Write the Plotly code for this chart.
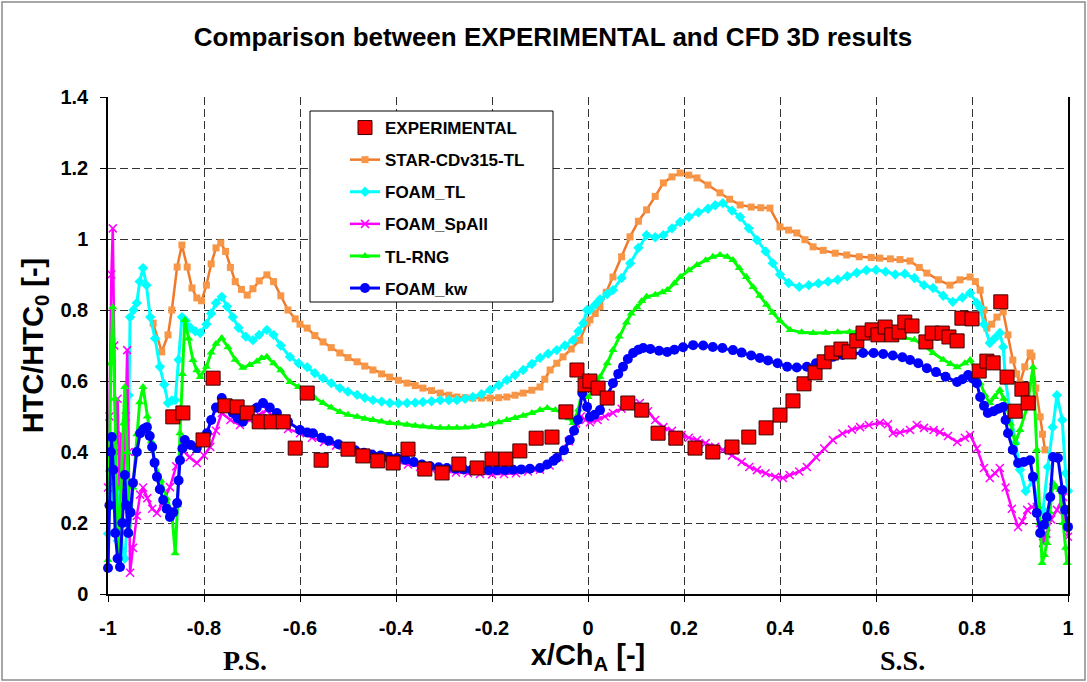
import plotly.graph_objects as go

# ---------------- data ----------------
x_ticks = [-1, -0.8, -0.6, -0.4, -0.2, 0, 0.2, 0.4, 0.6, 0.8, 1]
x_ticktext = ["-1", "-0.8", "-0.6", "-0.4", "-0.2", "0", "0.2", "0.4", "0.6", "0.8", "1"]
y_ticks = [0, 0.2, 0.4, 0.6, 0.8, 1.0, 1.2, 1.4]
y_ticktext = ["0", "0.2", "0.4", "0.6", "0.8", "1", "1.2", "1.4"]

exp_x = [-0.865, -0.844, -0.802, -0.781, -0.756, -0.731, -0.710, -0.685, -0.660, -0.635, -0.610,
         -0.585, -0.556, -0.500, -0.469, -0.438, -0.406, -0.375, -0.340, -0.304, -0.269, -0.231,
         -0.200, -0.171, -0.142, -0.108, -0.075, -0.046, -0.023, -0.006, 0.004, 0.021, 0.040,
         0.083, 0.112, 0.146, 0.183, 0.223, 0.260, 0.300, 0.335, 0.371, 0.400, 0.427, 0.450,
         0.473, 0.492, 0.508, 0.527, 0.544, 0.560, 0.573, 0.592, 0.604, 0.619, 0.633, 0.648,
         0.660, 0.675, 0.704, 0.717, 0.738, 0.752, 0.769, 0.779, 0.800, 0.815, 0.831, 0.844,
         0.860, 0.873, 0.890, 0.904, 0.917]
exp_y = [0.499, 0.510, 0.434, 0.608, 0.530, 0.527, 0.510, 0.485, 0.485, 0.485, 0.411,
         0.566, 0.377, 0.408, 0.389, 0.375, 0.369, 0.408, 0.352, 0.341, 0.366, 0.355,
         0.380, 0.380, 0.403, 0.439, 0.442, 0.513, 0.631, 0.589, 0.600, 0.580, 0.552,
         0.538, 0.518, 0.453, 0.439, 0.411, 0.400, 0.414, 0.442, 0.468, 0.504, 0.544, 0.592,
         0.623, 0.654, 0.679, 0.690, 0.682, 0.713, 0.735, 0.744, 0.730, 0.752, 0.730, 0.738,
         0.766, 0.755, 0.710, 0.735, 0.735, 0.724, 0.713, 0.777, 0.775, 0.628, 0.656, 0.651,
         0.823, 0.611, 0.515, 0.577, 0.538]

star_x = [-0.906, -0.888, -0.875, -0.867, -0.856, -0.846, -0.835, -0.825, -0.815, -0.805, -0.795,
          -0.785, -0.775, -0.765, -0.755, -0.745, -0.735, -0.722, -0.710, -0.698, -0.685, -0.669,
          -0.655, -0.640, -0.625, -0.610, -0.600, -0.585, -0.569, -0.552, -0.535, -0.517, -0.500,
          -0.481, -0.465, -0.448, -0.430, -0.413, -0.395, -0.377, -0.360, -0.344, -0.326, -0.308,
          -0.290, -0.273, -0.256, -0.240, -0.222, -0.204, -0.186, -0.169, -0.152, -0.135, -0.117,
          -0.100, -0.090, -0.079, -0.065, -0.052, -0.035, -0.017, -0.002, 0.004, 0.015, 0.025,
          0.038, 0.052, 0.070, 0.0875, 0.105, 0.122, 0.140, 0.157, 0.175, 0.192, 0.210, 0.227,
          0.250, 0.275, 0.295, 0.317, 0.340, 0.360, 0.379, 0.400, 0.418, 0.435, 0.452, 0.469,
          0.490, 0.515, 0.539, 0.565, 0.590, 0.608, 0.630, 0.650, 0.671, 0.690, 0.706, 0.730,
          0.754, 0.775, 0.796, 0.807, 0.817, 0.825, 0.831, 0.841, 0.852, 0.865, 0.875, 0.885,
          0.893, 0.900, 0.910, 0.921, 0.925, 0.933, 0.942, 0.947, 0.952]
star_y = [0.763, 0.682, 0.730, 0.800, 0.921, 0.983, 0.921, 0.862, 0.834, 0.826, 0.870,
          0.930, 0.975, 0.989, 0.965, 0.920, 0.880, 0.858, 0.842, 0.860, 0.882, 0.899,
          0.880, 0.840, 0.800, 0.775, 0.760, 0.749, 0.728, 0.710, 0.694, 0.679, 0.666,
          0.654, 0.642, 0.631, 0.620, 0.611, 0.602, 0.594, 0.587, 0.580, 0.573, 0.566,
          0.560, 0.555, 0.553, 0.552, 0.552, 0.552, 0.553, 0.555, 0.560, 0.566, 0.574,
          0.583, 0.605, 0.631, 0.650, 0.668, 0.690, 0.715, 0.763, 0.772, 0.790, 0.809,
          0.850, 0.893, 0.950, 1.006, 1.050, 1.082, 1.120, 1.158, 1.175, 1.186, 1.180, 1.172,
          1.152, 1.130, 1.112, 1.096, 1.090, 1.088, 1.087, 1.034, 1.025, 1.017, 0.998, 0.978,
          0.968, 0.960, 0.955, 0.950, 0.948, 0.946, 0.944, 0.942, 0.938, 0.920, 0.904, 0.885,
          0.870, 0.885, 0.893, 0.880, 0.856, 0.800, 0.749, 0.760, 0.780, 0.795, 0.730, 0.659,
          0.620, 0.594, 0.640, 0.679, 0.670, 0.580, 0.499, 0.450, 0.406]

ftl_x = [-1.000, -0.995, -0.990, -0.985, -0.980, -0.975, -0.970, -0.965, -0.960, -0.957, -0.954,
         -0.947, -0.940, -0.934, -0.927, -0.920, -0.912, -0.902, -0.892, -0.883, -0.875, -0.867,
         -0.860, -0.853, -0.846, -0.838, -0.828, -0.818, -0.808, -0.795, -0.785, -0.775, -0.763,
         -0.752, -0.740, -0.728, -0.713, -0.698, -0.685, -0.669, -0.655, -0.640, -0.621, -0.603,
         -0.585, -0.569, -0.552, -0.535, -0.517, -0.500, -0.481, -0.465, -0.448, -0.430, -0.413,
         -0.395, -0.377, -0.360, -0.344, -0.326, -0.308, -0.290, -0.273, -0.256, -0.240, -0.222,
         -0.204, -0.186, -0.169, -0.152, -0.135, -0.117, -0.100, -0.083, -0.065, -0.048, -0.031,
         -0.020, -0.010, -0.002, 0.004, 0.015, 0.025, 0.040, 0.052, 0.070, 0.088, 0.105, 0.122,
         0.140, 0.157, 0.175, 0.192, 0.210, 0.230, 0.250, 0.265, 0.281, 0.300, 0.317, 0.335,
         0.352, 0.370, 0.385, 0.400, 0.418, 0.440, 0.460, 0.480, 0.500, 0.520, 0.540, 0.560,
         0.580, 0.600, 0.620, 0.640, 0.660, 0.680, 0.700, 0.719, 0.740, 0.760, 0.780, 0.796,
         0.810, 0.817, 0.825, 0.837, 0.847, 0.858, 0.865, 0.870, 0.879, 0.890, 0.900, 0.912,
         0.927, 0.940, 0.948, 0.958, 0.968, 0.977, 0.988, 0.995, 1.000]
ftl_y = [0.170, 0.350, 0.250, 0.400, 0.150, 0.300, 0.120, 0.100, 0.200, 0.560, 0.780,
         0.800, 0.820, 0.880, 0.918, 0.870, 0.780, 0.720, 0.640, 0.590, 0.538, 0.545,
         0.546, 0.660, 0.780, 0.770, 0.750, 0.740, 0.735, 0.760, 0.790, 0.820, 0.837,
         0.810, 0.780, 0.750, 0.725, 0.715, 0.730, 0.744, 0.730, 0.700, 0.668, 0.650,
         0.639, 0.622, 0.608, 0.594, 0.580, 0.570, 0.561, 0.553, 0.546, 0.542, 0.538,
         0.537, 0.538, 0.539, 0.541, 0.543, 0.546, 0.546, 0.546, 0.550, 0.555, 0.563,
         0.575, 0.588, 0.603, 0.617, 0.631, 0.648, 0.665, 0.677, 0.687, 0.700, 0.715,
         0.740, 0.763, 0.800, 0.800, 0.815, 0.830, 0.845, 0.856, 0.890, 0.932, 0.975, 1.011,
         1.005, 1.011, 1.030, 1.048, 1.062, 1.075, 1.085, 1.095, 1.101, 1.080, 1.062, 1.030,
         0.997, 0.965, 0.932, 0.900, 0.876, 0.865, 0.870, 0.875, 0.880, 0.885, 0.895, 0.905,
         0.912, 0.913, 0.908, 0.900, 0.902, 0.890, 0.870, 0.862, 0.840, 0.823, 0.835, 0.848,
         0.820, 0.806, 0.760, 0.707, 0.720, 0.735, 0.696, 0.600, 0.518, 0.425, 0.350, 0.290,
         0.320, 0.237, 0.237, 0.358, 0.470, 0.560, 0.490, 0.340, 0.290]

spall_x = [-1.000, -0.997, -0.993, -0.990, -0.987, -0.984, -0.980, -0.976, -0.972, -0.968, -0.963,
           -0.960, -0.957, -0.954, -0.948, -0.940, -0.933, -0.927, -0.918, -0.908, -0.898, -0.885,
           -0.871, -0.858, -0.844, -0.830, -0.815, -0.800, -0.787, -0.775, -0.763, -0.745, -0.725,
           -0.705, -0.685, -0.669, -0.650, -0.625, -0.600, -0.575, -0.550, -0.525, -0.500, -0.475,
           -0.450, -0.425, -0.400, -0.375, -0.350, -0.325, -0.300, -0.275, -0.250, -0.225, -0.200,
           -0.175, -0.150, -0.125, -0.100, -0.080, -0.060, -0.040, -0.025, -0.015, -0.005, 0.004,
           0.020, 0.035, 0.052, 0.070, 0.090, 0.108, 0.125, 0.140, 0.157, 0.175, 0.195, 0.210,
           0.227, 0.245, 0.265, 0.281, 0.300, 0.320, 0.336, 0.352, 0.370, 0.390, 0.406, 0.420,
           0.440, 0.456, 0.475, 0.492, 0.510, 0.530, 0.550, 0.567, 0.585, 0.608, 0.625, 0.635,
           0.650, 0.671, 0.685, 0.700, 0.720, 0.733, 0.750, 0.769, 0.785, 0.796, 0.810, 0.825,
           0.837, 0.848, 0.858, 0.870, 0.883, 0.896, 0.905, 0.915, 0.925, 0.935, 0.942, 0.948,
           0.955, 0.965, 0.977, 0.990, 0.995, 1.000]
spall_y = [0.300, 0.500, 0.900, 1.030, 0.700, 0.400, 0.550, 0.300, 0.450, 0.250, 0.500,
           0.687, 0.400, 0.060, 0.130, 0.220, 0.280, 0.300, 0.270, 0.240, 0.228, 0.260,
           0.301, 0.360, 0.405, 0.385, 0.369, 0.390, 0.414, 0.460, 0.510, 0.490, 0.476,
           0.490, 0.505, 0.518, 0.490, 0.465, 0.453, 0.440, 0.428, 0.418, 0.408, 0.398,
           0.388, 0.378, 0.372, 0.365, 0.358, 0.350, 0.345, 0.342, 0.340, 0.338, 0.337,
           0.338, 0.340, 0.345, 0.350, 0.362, 0.385, 0.430, 0.480, 0.500, 0.490, 0.484,
           0.490, 0.500, 0.510, 0.522, 0.535, 0.538, 0.515, 0.490, 0.470, 0.460, 0.448, 0.440,
           0.434, 0.425, 0.415, 0.406, 0.390, 0.372, 0.358, 0.349, 0.340, 0.330, 0.327, 0.335,
           0.345, 0.358, 0.385, 0.410, 0.434, 0.452, 0.463, 0.470, 0.476, 0.482, 0.478, 0.453,
           0.455, 0.462, 0.476, 0.468, 0.462, 0.456, 0.445, 0.428, 0.440, 0.448, 0.410, 0.355,
           0.327, 0.340, 0.355, 0.300, 0.240, 0.189, 0.205, 0.237, 0.245, 0.245, 0.200, 0.144,
           0.170, 0.210, 0.237, 0.273, 0.210, 0.161]

rng_x = [-1.000, -0.997, -0.994, -0.990, -0.986, -0.982, -0.979, -0.973, -0.968, -0.965, -0.960,
         -0.955, -0.948, -0.940, -0.934, -0.927, -0.918, -0.910, -0.902, -0.890, -0.878, -0.867,
         -0.860, -0.855, -0.850, -0.845, -0.840, -0.832, -0.823, -0.815, -0.808, -0.795, -0.785,
         -0.775, -0.763, -0.750, -0.735, -0.719, -0.705, -0.690, -0.680, -0.669, -0.655, -0.640,
         -0.621, -0.603, -0.585, -0.569, -0.552, -0.535, -0.517, -0.500, -0.481, -0.465, -0.448,
         -0.430, -0.413, -0.395, -0.377, -0.360, -0.344, -0.326, -0.308, -0.290, -0.273, -0.256,
         -0.240, -0.222, -0.204, -0.186, -0.169, -0.152, -0.135, -0.117, -0.100, -0.085, -0.068,
         -0.052, -0.040, -0.031, -0.020, -0.012, 0.000, 0.012, 0.025, 0.040, 0.052, 0.065, 0.080,
         0.090, 0.102, 0.112, 0.122, 0.140, 0.155, 0.165, 0.180, 0.192, 0.210, 0.227, 0.245,
         0.260, 0.275, 0.290, 0.302, 0.315, 0.330, 0.344, 0.358, 0.372, 0.385, 0.400, 0.421,
         0.445, 0.469, 0.495, 0.520, 0.545, 0.560, 0.580, 0.600, 0.620, 0.640, 0.660, 0.680,
         0.700, 0.719, 0.740, 0.755, 0.769, 0.785, 0.796, 0.808, 0.817, 0.827, 0.837, 0.847,
         0.858, 0.866, 0.873, 0.880, 0.890, 0.900, 0.915, 0.927, 0.935, 0.941, 0.946, 0.951,
         0.956, 0.962, 0.969, 0.976, 0.983, 0.990, 0.995, 0.998]
rng_y = [0.096, 0.350, 0.650, 0.808, 0.550, 0.300, 0.100, 0.300, 0.480, 0.583, 0.400,
         0.170, 0.300, 0.450, 0.540, 0.583, 0.500, 0.430, 0.369, 0.320, 0.270, 0.228,
         0.115, 0.250, 0.453, 0.620, 0.772, 0.720, 0.659, 0.630, 0.611, 0.640, 0.680,
         0.705, 0.721, 0.695, 0.660, 0.637, 0.645, 0.655, 0.665, 0.668, 0.650, 0.630,
         0.597, 0.583, 0.566, 0.552, 0.538, 0.525, 0.513, 0.505, 0.499, 0.494, 0.490,
         0.486, 0.482, 0.480, 0.477, 0.474, 0.472, 0.470, 0.468, 0.468, 0.468, 0.469,
         0.471, 0.474, 0.478, 0.484, 0.490, 0.496, 0.502, 0.510, 0.518, 0.524, 0.518,
         0.510, 0.495, 0.482, 0.520, 0.575, 0.555, 0.575, 0.611, 0.650, 0.687, 0.725, 0.765,
         0.790, 0.808, 0.825, 0.837, 0.843, 0.850, 0.856, 0.875, 0.893, 0.912, 0.927, 0.940,
         0.950, 0.955, 0.950, 0.941, 0.918, 0.893, 0.865, 0.840, 0.815, 0.792, 0.770, 0.744,
         0.737, 0.735, 0.736, 0.737, 0.738, 0.738, 0.740, 0.738, 0.735, 0.728, 0.722, 0.716,
         0.700, 0.679, 0.660, 0.648, 0.639, 0.650, 0.659, 0.630, 0.594, 0.560, 0.538, 0.555,
         0.575, 0.550, 0.527, 0.480, 0.425, 0.462, 0.527, 0.639, 0.406, 0.200, 0.087, 0.110,
         0.144, 0.230, 0.313, 0.300, 0.293, 0.200, 0.130, 0.087]

kw_x = [-1.000, -0.997, -0.994, -0.992, -0.989, -0.985, -0.980, -0.975, -0.970, -0.965, -0.962,
        -0.958, -0.953, -0.948, -0.940, -0.933, -0.926, -0.919, -0.913, -0.908, -0.903, -0.898,
        -0.892, -0.885, -0.878, -0.871, -0.864, -0.856, -0.853, -0.850, -0.845, -0.840, -0.828,
        -0.815, -0.805, -0.794, -0.785, -0.775, -0.763, -0.752, -0.740, -0.730, -0.719, -0.705,
        -0.690, -0.677, -0.663, -0.648, -0.625, -0.600, -0.585, -0.573, -0.555, -0.540, -0.520,
        -0.502, -0.485, -0.467, -0.450, -0.432, -0.415, -0.398, -0.380, -0.363, -0.346, -0.329,
        -0.311, -0.294, -0.276, -0.259, -0.242, -0.225, -0.207, -0.190, -0.173, -0.156, -0.139,
        -0.121, -0.100, -0.085, -0.072, -0.065, -0.050, -0.038, -0.029, -0.021, -0.012, -0.002,
        0.004, 0.014, 0.025, 0.038, 0.052, 0.063, 0.073, 0.083, 0.094, 0.105, 0.115, 0.130,
        0.148, 0.165, 0.180, 0.198, 0.219, 0.240, 0.260, 0.280, 0.302, 0.320, 0.340, 0.358,
        0.375, 0.395, 0.415, 0.435, 0.456, 0.475, 0.492, 0.510, 0.530, 0.550, 0.573, 0.595,
        0.615, 0.635, 0.655, 0.671, 0.688, 0.706, 0.725, 0.745, 0.769, 0.780, 0.792, 0.801,
        0.810, 0.817, 0.825, 0.833, 0.845, 0.855, 0.865, 0.870, 0.875, 0.885, 0.896, 0.908,
        0.921, 0.927, 0.935, 0.942, 0.950, 0.956, 0.963, 0.969, 0.979, 0.988, 0.994, 1.000]
kw_y = [0.073, 0.250, 0.400, 0.442, 0.350, 0.172, 0.100, 0.076, 0.200, 0.335, 0.250,
        0.172, 0.230, 0.313, 0.400, 0.453, 0.465, 0.470, 0.445, 0.414, 0.370, 0.330,
        0.295, 0.265, 0.240, 0.217, 0.230, 0.256, 0.320, 0.377, 0.410, 0.434, 0.420,
        0.411, 0.430, 0.453, 0.490, 0.525, 0.552, 0.530, 0.510, 0.495, 0.485, 0.505,
        0.525, 0.538, 0.525, 0.510, 0.485, 0.462, 0.455, 0.453, 0.440, 0.432, 0.422,
        0.414, 0.405, 0.398, 0.393, 0.390, 0.386, 0.383, 0.378, 0.372, 0.365, 0.360,
        0.357, 0.355, 0.353, 0.351, 0.350, 0.349, 0.349, 0.349, 0.349, 0.350, 0.351,
        0.353, 0.355, 0.365, 0.375, 0.383, 0.405, 0.434, 0.460, 0.490, 0.566, 0.527,
        0.499, 0.505, 0.518, 0.555, 0.594, 0.620, 0.640, 0.662, 0.679, 0.688, 0.693, 0.690,
        0.685, 0.682, 0.688, 0.695, 0.701, 0.700, 0.696, 0.693, 0.687, 0.680, 0.672, 0.665,
        0.658, 0.650, 0.640, 0.638, 0.640, 0.650, 0.660, 0.668, 0.673, 0.677, 0.679, 0.679,
        0.676, 0.672, 0.667, 0.659, 0.650, 0.636, 0.625, 0.612, 0.597, 0.605, 0.617, 0.607,
        0.594, 0.555, 0.530, 0.510, 0.515, 0.522, 0.527, 0.490, 0.453, 0.406, 0.369, 0.372,
        0.377, 0.330, 0.228, 0.172, 0.195, 0.217, 0.273, 0.386, 0.383, 0.293, 0.237, 0.189]

# ---------------- figure ----------------
W, H = 1087, 682
ML, MR, MT, MB = 108, 19, 97, 88
PW, PH = W - ML - MR, H - MT - MB


def px2paper_x(px):
    return (px - ML) / PW


def px2paper_y(py):
    return (H - MB - py) / PH


fig = go.Figure()

series = [
    ("STAR-CDv315-TL", star_x, star_y, "#F07A2A", "#F79646", "square", 7, 2, 2.5),
    ("FOAM_TL", ftl_x, ftl_y, "#00FFFF", "#00FFFF", "diamond", 8, 3, 3),
    ("FOAM_SpAll", spall_x, spall_y, "#FF00FF", "#FF00FF", "x-thin", 8, 4, 2.5),
    ("TL-RNG", rng_x, rng_y, "#00FF00", "#00FF00", "triangle-up", 8, 5, 3),
    ("FOAM_kw", kw_x, kw_y, "#0000FF", "#0000FF", "circle", 10, 6, 3),
]
for name, xs, ys, lc, mc, sym, ms, rank, lw in series:
    marker = dict(symbol=sym, size=ms, color=mc)
    if sym == "x-thin":
        marker["line"] = dict(color=mc, width=1.5)
    fig.add_trace(go.Scatter(
        x=xs, y=ys, mode="lines+markers", name=name,
        line=dict(color=lc, width=lw), marker=marker,
        legendrank=rank, legendgroup=name, cliponaxis=False))

fig.add_trace(go.Scatter(
    x=exp_x, y=exp_y, mode="markers", name="EXPERIMENTAL",
    marker=dict(symbol="square", size=14, color="#FF0000",
                line=dict(color="#3A0000", width=1)),
    legendrank=1, legendgroup="EXPERIMENTAL", cliponaxis=False))

bold = "Liberation Sans, Arial, sans-serif"

fig.update_layout(
    width=W, height=H,
    margin=dict(l=ML, r=MR, t=MT, b=MB),
    paper_bgcolor="white", plot_bgcolor="white",
    title=dict(text="Comparison between EXPERIMENTAL and CFD 3D results",
               font=dict(family=bold, size=26, color="black", weight="bold"),
               x=553 / W, xref="container", xanchor="center",
               y=1 - 37 / H, yref="container", yanchor="middle"),
    showlegend=True,
    legend=dict(x=px2paper_x(345), y=px2paper_y(110), xanchor="left", yanchor="top",
                bgcolor="rgba(0,0,0,0)", borderwidth=0,
                font=dict(family=bold, size=17, color="black", weight="bold"),
                tracegroupgap=7, itemwidth=30),
    xaxis=dict(range=[-1, 1], tickvals=x_ticks, ticktext=x_ticktext,
               showgrid=True, gridcolor="#333333", griddash="8px,4px", gridwidth=1,
               showline=True, linecolor="black", linewidth=1.5, mirror=False,
               ticks="outside", ticklen=6, tickcolor="black", zeroline=False,
               ticklabelstandoff=9,
               tickfont=dict(family=bold, size=20, color="black", weight="bold"),
               title=dict(text="x/Ch<sub>A</sub> [-]", standoff=6,
                          font=dict(family=bold, size=29, color="black", weight="bold"))),
    yaxis=dict(range=[0, 1.4], tickvals=y_ticks, ticktext=y_ticktext,
               showgrid=True, gridcolor="#333333", griddash="8px,4px", gridwidth=1,
               showline=True, linecolor="black", linewidth=1.5, mirror=True,
               ticks="outside", ticklen=6, tickcolor="black", zeroline=False,
               ticklabelstandoff=8,
               tickfont=dict(family=bold, size=20, color="black", weight="bold"),
               title=dict(text="HTC/HTC<sub>0</sub> [-]", standoff=8,
                          font=dict(family=bold, size=29, color="black", weight="bold"))),
)

# legend box (opaque, above grid)
fig.add_shape(type="rect", xref="paper", yref="paper", layer="above",
              x0=px2paper_x(310), x1=px2paper_x(553), y0=px2paper_y(302), y1=px2paper_y(111),
              line=dict(color="black", width=1), fillcolor="white")
# outer chart border
fig.add_shape(type="rect", xref="paper", yref="paper", layer="above",
              x0=px2paper_x(2), x1=px2paper_x(1085), y0=px2paper_y(680), y1=px2paper_y(2),
              line=dict(color="#8a8a8a", width=1.5), fillcolor="rgba(0,0,0,0)")

serif = "Liberation Serif, Times New Roman, serif"
for txt, px in [("P.S.", 245), ("S.S.", 902)]:
    fig.add_annotation(text=txt, xref="paper", yref="paper", x=px2paper_x(px), y=px2paper_y(660),
                       showarrow=False, xanchor="center", yanchor="middle",
                       font=dict(family=serif, size=28, color="black", weight="bold"))

fig.write_html("out.html")
